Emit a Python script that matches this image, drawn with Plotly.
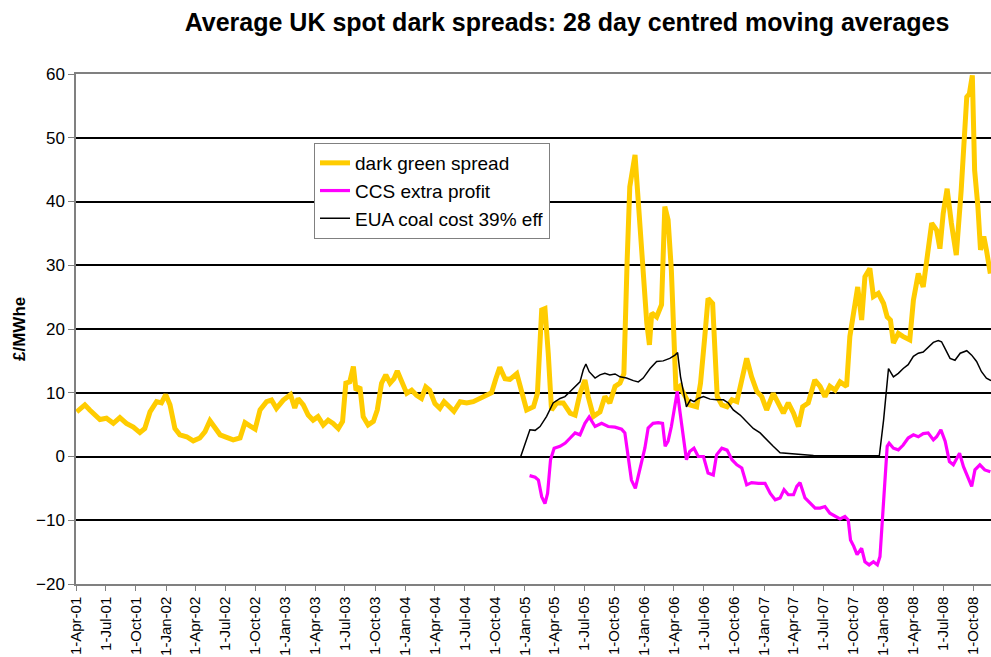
import plotly.graph_objects as go

# Dark green spread (28-day centred moving average), GBP/MWhe
dgs_dates = [
    "2001-04-03", "2001-04-28", "2001-05-13", "2001-05-28", "2001-06-13", "2001-07-03",
    "2001-07-24", "2001-08-13", "2001-09-02", "2001-09-23", "2001-10-13", "2001-10-28",
    "2001-11-13", "2001-12-03", "2001-12-18", "2001-12-31", "2002-01-13", "2002-01-28",
    "2002-02-12", "2002-03-05", "2002-03-25", "2002-04-14", "2002-04-30", "2002-05-15",
    "2002-05-31", "2002-06-15", "2002-07-05", "2002-07-25", "2002-08-15", "2002-08-30",
    "2002-09-14", "2002-09-30", "2002-10-15", "2002-11-04", "2002-11-19", "2002-12-04",
    "2002-12-25", "2003-01-09", "2003-01-16", "2003-01-29", "2003-02-08", "2003-02-24",
    "2003-03-11", "2003-03-26", "2003-04-10", "2003-04-26", "2003-05-11", "2003-05-26",
    "2003-06-11", "2003-06-24", "2003-07-04", "2003-07-16", "2003-07-27", "2003-08-04",
    "2003-08-16", "2003-08-26", "2003-09-10", "2003-09-26", "2003-10-08", "2003-10-21",
    "2003-11-03", "2003-11-16", "2003-11-28", "2003-12-08", "2003-12-22", "2004-01-06",
    "2004-01-21", "2004-02-05", "2004-02-20", "2004-03-04", "2004-03-16", "2004-04-01",
    "2004-04-16", "2004-04-29", "2004-05-15", "2004-05-29", "2004-06-17", "2004-07-07",
    "2004-07-27", "2004-08-17", "2004-09-06", "2004-09-21", "2004-10-04", "2004-10-16",
    "2004-11-01", "2004-11-16", "2004-12-07", "2004-12-20", "2005-01-06", "2005-01-27",
    "2005-02-08", "2005-02-21", "2005-03-03", "2005-03-13", "2005-03-23", "2005-04-08",
    "2005-04-28", "2005-05-19", "2005-06-03", "2005-06-18", "2005-07-03", "2005-07-13",
    "2005-07-29", "2005-08-18", "2005-09-02", "2005-09-17", "2005-10-03", "2005-10-18",
    "2005-10-30", "2005-11-09", "2005-11-17", "2005-12-03", "2005-12-13", "2005-12-23",
    "2005-12-31", "2006-01-08", "2006-01-16", "2006-01-23", "2006-02-07", "2006-02-22",
    "2006-03-04", "2006-03-14", "2006-03-24", "2006-04-01", "2006-04-07", "2006-04-19",
    "2006-05-04", "2006-05-19", "2006-06-09", "2006-06-21", "2006-07-04", "2006-07-14",
    "2006-07-28", "2006-08-04", "2006-08-11", "2006-08-25", "2006-09-10", "2006-09-25",
    "2006-10-10", "2006-10-25", "2006-11-09", "2006-11-24", "2006-12-10", "2006-12-25",
    "2007-01-09", "2007-01-29", "2007-02-14", "2007-03-01", "2007-03-16", "2007-04-01",
    "2007-04-16", "2007-04-29", "2007-05-16", "2007-06-05", "2007-06-21", "2007-07-06",
    "2007-07-21", "2007-08-06", "2007-08-21", "2007-09-10", "2007-09-20", "2007-10-01",
    "2007-10-14", "2007-10-26", "2007-11-05", "2007-11-20", "2007-12-01", "2007-12-16",
    "2008-01-01", "2008-01-12", "2008-01-22", "2008-01-31", "2008-02-15", "2008-03-01",
    "2008-03-21", "2008-04-01", "2008-04-16", "2008-05-01", "2008-05-16", "2008-05-27",
    "2008-06-11", "2008-06-21", "2008-07-01", "2008-07-13", "2008-07-26", "2008-08-10",
    "2008-08-25", "2008-09-04", "2008-09-11", "2008-09-19", "2008-09-28", "2008-10-05",
    "2008-10-15", "2008-10-23", "2008-11-02", "2008-11-10", "2008-11-22",
]
dgs_vals = [
    7.0, 8.1, 7.3, 6.5, 5.8, 6.0,
    5.2, 6.1, 5.2, 4.6, 3.75, 4.4,
    7.0, 8.6, 8.4, 9.7, 8.1, 4.4,
    3.4, 3.1, 2.45, 2.9, 3.9, 5.6,
    4.4, 3.4, 3.0, 2.6, 2.9, 5.3,
    4.8, 4.3, 7.3, 8.6, 8.85, 7.55,
    8.85, 9.6, 9.7, 7.6, 9.1, 8.1,
    6.5, 5.7, 6.25, 4.95, 5.7, 5.2,
    4.4, 5.5, 11.5, 11.7, 14.1, 10.4,
    10.9, 6.25, 4.95, 5.5, 7.3, 11.5,
    12.8, 11.5, 12.2, 13.4, 11.7, 9.9,
    10.4, 9.6, 9.1, 10.9, 10.4, 8.3,
    7.55, 8.6, 7.8, 7.1, 8.6, 8.4,
    8.6, 9.1, 9.6, 10.0, 12.2, 14.0,
    12.2, 12.1, 13.0, 10.4, 7.3, 7.8,
    9.9, 23.0, 23.2, 16.2, 7.3, 8.4,
    8.4, 6.8, 6.5, 9.9, 12.0, 9.4,
    6.3, 7.0, 9.4, 8.4, 11.0, 11.5,
    13.0, 30.8, 42.3, 47.3, 39.7, 33.4,
    28.2, 20.9, 17.5, 22.5, 21.9, 23.8,
    39.2, 37.1, 29.2, 15.1, 10.4, 11.0,
    9.4, 8.1, 7.8, 11.5, 18.8, 24.8,
    24.0, 16.7, 9.4, 8.1, 7.8, 8.9,
    8.6, 12.0, 15.4, 12.5, 10.2, 9.4,
    7.3, 9.9, 8.4, 6.8, 8.4, 6.8,
    4.7, 7.8, 8.4, 12.0, 11.0, 9.4,
    11.0, 10.4, 11.7, 11.0, 18.8, 22.5,
    26.6, 21.4, 28.2, 29.5, 25.1, 25.6,
    24.0, 21.9, 21.4, 17.8, 19.3, 18.8,
    18.3, 24.5, 28.7, 26.6, 31.9, 36.6,
    35.5, 32.6, 38.1, 42.0, 36.6, 31.6,
    41.8, 49.0, 56.4, 56.9, 59.8, 44.9,
    39.2, 32.4, 34.5, 32.4, 28.7,
]

# Extra profit from carbon capture and storage, GBP/MWhe
ccs_dates = [
    "2005-01-15", "2005-02-01", "2005-02-11", "2005-02-21", "2005-03-03", "2005-03-11",
    "2005-03-20", "2005-03-31", "2005-04-18", "2005-05-04", "2005-05-19", "2005-06-03",
    "2005-06-18", "2005-07-03", "2005-07-16", "2005-08-03", "2005-08-23", "2005-09-12",
    "2005-10-03", "2005-10-23", "2005-11-02", "2005-11-12", "2005-11-22", "2005-12-04",
    "2005-12-18", "2006-01-02", "2006-01-12", "2006-01-27", "2006-02-12", "2006-02-25",
    "2006-03-05", "2006-03-14", "2006-03-24", "2006-04-04", "2006-04-11", "2006-04-19",
    "2006-04-29", "2006-05-09", "2006-05-19", "2006-06-01", "2006-06-14", "2006-06-30",
    "2006-07-14", "2006-07-30", "2006-08-09", "2006-08-25", "2006-09-10", "2006-09-25",
    "2006-10-10", "2006-10-25", "2006-11-09", "2006-11-24", "2006-12-15", "2007-01-04",
    "2007-01-20", "2007-02-04", "2007-02-19", "2007-03-03", "2007-03-16", "2007-04-01",
    "2007-04-11", "2007-04-21", "2007-05-06", "2007-05-22", "2007-06-06", "2007-06-21",
    "2007-07-06", "2007-07-21", "2007-08-06", "2007-08-21", "2007-09-05", "2007-09-15",
    "2007-09-22", "2007-10-02", "2007-10-12", "2007-10-26", "2007-11-05", "2007-11-18",
    "2007-12-01", "2007-12-13", "2007-12-21", "2007-12-29", "2008-01-05", "2008-01-12",
    "2008-01-18", "2008-01-31", "2008-02-15", "2008-03-01", "2008-03-16", "2008-04-01",
    "2008-04-16", "2008-05-01", "2008-05-16", "2008-06-01", "2008-06-11", "2008-06-24",
    "2008-07-07", "2008-07-20", "2008-08-01", "2008-08-20", "2008-09-01", "2008-09-16",
    "2008-09-26", "2008-10-06", "2008-10-21", "2008-11-05", "2008-11-22",
]
ccs_vals = [
    -3.0, -3.25, -3.7, -6.3, -7.4, -5.8,
    -0.5, 1.3, 1.6, 2.1, 2.9, 3.7,
    3.4, 5.2, 6.2, 4.7, 5.2, 4.7,
    4.6, 4.3, 3.7, -0.5, -3.7, -5.0,
    -2.1, 1.3, 4.45, 5.2, 5.3, 5.2,
    1.6, 2.4, 4.7, 8.4, 10.2, 7.1,
    3.1, -0.5, 0.8, 1.3, 0.0, 0.0,
    -2.6, -2.9, 0.26, 1.3, 1.0, -0.5,
    -1.3, -1.8, -4.45, -4.1, -4.2, -4.2,
    -5.8, -6.8, -6.5, -5.2, -6.0, -6.0,
    -4.7, -4.1, -6.5, -7.3, -8.1, -8.1,
    -7.85, -8.9, -9.3, -9.8, -9.4, -9.95,
    -13.1, -14.1, -15.4, -14.4, -16.5, -17.0,
    -16.5, -17.0, -15.7, -9.95, -3.7, 1.6,
    2.1, 1.3, 1.05, 1.8, 2.9, 3.4,
    3.1, 3.6, 3.7, 2.6, 3.1, 4.2,
    2.4, -0.8, -1.3, 0.5, -1.6, -3.4,
    -4.7, -2.1, -1.3, -2.1, -2.4,
]

# EU allowance cost for a 39% efficient coal plant, GBP/MWhe
eua_dates = [
    "2004-12-19", "2005-01-16", "2005-02-01", "2005-02-16", "2005-03-08", "2005-03-28",
    "2005-04-18", "2005-05-03", "2005-05-19", "2005-06-03", "2005-06-18", "2005-06-28",
    "2005-07-06", "2005-07-16", "2005-08-03", "2005-08-18", "2005-09-02", "2005-09-17",
    "2005-10-03", "2005-10-18", "2005-11-07", "2005-11-28", "2005-12-13", "2005-12-28",
    "2006-01-18", "2006-02-07", "2006-02-27", "2006-03-19", "2006-04-04", "2006-04-12",
    "2006-04-21", "2006-05-09", "2006-05-21", "2006-06-01", "2006-06-14", "2006-06-30",
    "2006-07-20", "2006-08-09", "2006-08-30", "2006-09-14", "2006-09-29", "2006-10-20",
    "2006-11-09", "2006-11-29", "2006-12-20", "2007-01-09", "2007-01-29", "2007-02-19",
    "2007-03-11", "2007-04-01", "2007-05-01", "2007-06-01", "2007-07-21", "2007-09-10",
    "2007-10-31", "2007-12-19", "2008-01-01", "2008-01-16", "2008-01-31", "2008-02-15",
    "2008-03-01", "2008-03-16", "2008-04-01", "2008-04-16", "2008-05-01", "2008-05-16",
    "2008-06-01", "2008-06-16", "2008-06-26", "2008-07-06", "2008-07-22", "2008-08-06",
    "2008-08-22", "2008-09-11", "2008-09-26", "2008-10-11", "2008-10-26", "2008-11-10",
    "2008-11-24",
]
eua_vals = [
    0.0, 4.2, 4.1, 4.7, 6.3, 8.4,
    9.1, 9.4, 10.2, 11.0, 11.7, 13.6,
    14.5, 13.3, 12.3, 12.8, 13.05, 12.8,
    12.95, 12.5, 12.3, 11.9, 11.7, 12.3,
    13.8, 14.9, 15.0, 15.4, 15.9, 16.3,
    12.5, 7.8, 8.9, 8.6, 9.1, 9.4,
    9.0, 8.9, 8.9, 8.4, 7.3, 6.5,
    5.5, 4.4, 3.7, 2.6, 1.6, 0.6,
    0.5, 0.5, 0.3, 0.15, 0.1, 0.1,
    0.1, 0.1, 5.7, 13.8, 12.5, 13.05,
    13.8, 14.4, 15.7, 16.2, 16.4, 17.2,
    17.9, 18.2, 18.0, 17.0, 15.4, 15.1,
    16.2, 16.6, 15.9, 14.9, 13.3, 12.3,
    11.9,
]

# Quarterly ticks on the date axis
tick_dates = [f"{y}-{m:02d}-01" for y in range(2001, 2009) for m in (1, 4, 7, 10)
              if "2001-04-01" <= f"{y}-{m:02d}-01" <= "2008-10-01"]

FONT = "Arial, Liberation Sans, sans-serif"
AXIS_GREY = "#808080"

fig = go.Figure()
fig.add_trace(go.Scatter(x=dgs_dates, y=dgs_vals, mode="lines", name="dark green spread",
                         line=dict(color="#FFCC00", width=5)))
fig.add_trace(go.Scatter(x=ccs_dates, y=ccs_vals, mode="lines", name="CCS extra profit",
                         line=dict(color="#FF00FF", width=3.2)))
fig.add_trace(go.Scatter(x=eua_dates, y=eua_vals, mode="lines", name="EUA coal cost 39% eff",
                         line=dict(color="#000000", width=1.5)))

fig.update_layout(
    width=991, height=657,
    margin=dict(l=76, r=0, t=74, b=73, autoexpand=False),
    paper_bgcolor="white", plot_bgcolor="white",
    font=dict(family=FONT, color="black"),
    title=dict(text="<b>Average UK spot dark spreads: 28 day centred moving averages</b>",
               x=567 / 991, xanchor="center", xref="container",
               y=1 - 22 / 657, yanchor="middle", yref="container",
               font=dict(size=25, family=FONT, color="black")),
    showlegend=True,
    legend=dict(x=(314 - 76) / 915, y=(584 - 143) / 510, xanchor="left", yanchor="top",
                bgcolor="white", bordercolor=AXIS_GREY, borderwidth=1,
                font=dict(size=19, family=FONT, color="black"),
                tracegroupgap=0, itemwidth=30),
    xaxis=dict(type="date", range=["2001-04-01", "2008-11-24"], automargin=False,
               tickvals=tick_dates, tickformat="%-d-%b-%y", tickangle=-90,
               tickfont=dict(size=15, family=FONT, color="black"),
               showgrid=False, zeroline=False,
               showline=True, linecolor=AXIS_GREY, linewidth=1.5, mirror=True,
               ticks="outside", ticklen=5, tickcolor=AXIS_GREY, tickwidth=1),
    yaxis=dict(range=[-20, 60], tickvals=list(range(-20, 61, 10)), automargin=False,
               tickfont=dict(size=17, family=FONT, color="black"),
               showgrid=True, gridcolor="black", gridwidth=2, zeroline=False,
               showline=True, linecolor=AXIS_GREY, linewidth=1.5,
               ticks="outside", ticklen=6, tickcolor=AXIS_GREY, tickwidth=1),
    annotations=[dict(text="<b>£/MWhe</b>", textangle=-90, x=(19 - 76) / 915, y=0.5,
                      xref="paper", yref="paper", showarrow=False,
                      xanchor="center", yanchor="middle",
                      font=dict(size=17, family=FONT, color="black"))],
)

fig.write_html("out.html")
